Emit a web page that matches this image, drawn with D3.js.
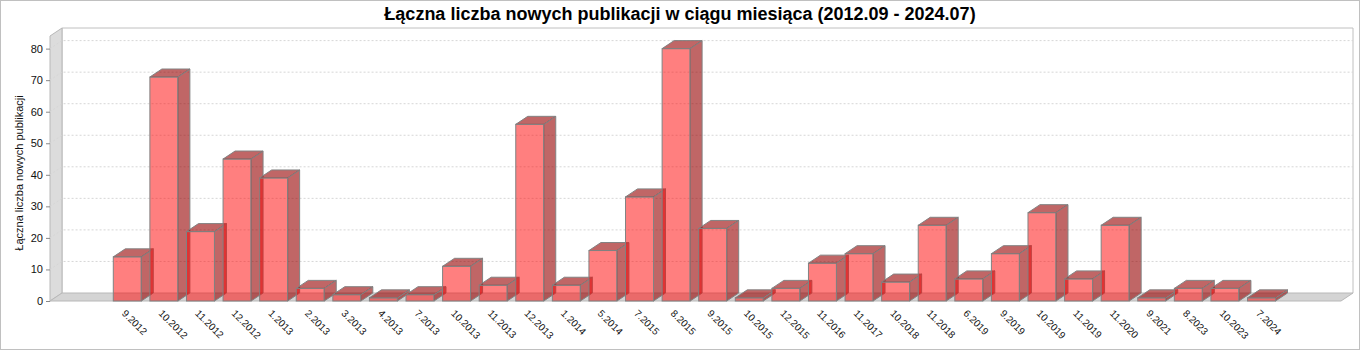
<!DOCTYPE html>
<html>
<head>
<meta charset="utf-8">
<script src="https://cdn.jsdelivr.net/npm/d3@7"></script>
<style>
  body { margin: 0; background: #fff; }
  svg { display: block; font-family: "Liberation Sans", Arial, sans-serif; }
</style>
</head>
<body>
<script>
const categories = ["9.2012", "10.2012", "11.2012", "12.2012", "1.2013", "2.2013", "3.2013", "4.2013", "7.2013",
  "10.2013", "11.2013", "12.2013", "1.2014", "5.2014", "7.2015", "8.2015", "9.2015", "10.2015", "12.2015",
  "11.2016", "11.2017", "10.2018", "11.2018", "6.2019", "9.2019", "10.2019", "11.2019", "11.2020", "9.2021",
  "8.2023", "10.2023", "7.2024"]
const counts = [14, 71, 22, 45, 39, 4, 2, 1, 2, 11, 5, 56, 5, 16, 33, 80, 23, 1, 4, 12, 15, 6, 24, 7, 15, 28, 7, 24, 1, 4, 4, 1]
const yTicks = [0, 10, 20, 30, 40, 50, 60, 70, 80]

const title = "Łączna liczba nowych publikacji w ciągu miesiąca (2012.09 - 2024.07)"
const yLabel = "Łączna liczba nowych publikacji"

const width = 1360
const height = 350
// 3d offset of the plot
const dx = 12
const dy = 8
const plotLeft = 50, plotRight = 1341, plotTop = 36, plotBottom = 301

const x = d3.scaleBand().domain(categories).range([113.3, 1275.5]).paddingInner(0.235)
const y = d3.scaleLinear().domain([0, 84]).range([plotBottom, plotTop])

const svg = d3.select("body").append("svg").attr("width", width).attr("height", height)

svg.append("rect").attr("x", 0.5).attr("y", 0.5).attr("width", width - 1).attr("height", height - 1)
  .attr("fill", "#fff").attr("stroke", "#c0c0c0")

svg.append("text").attr("x", 680).attr("y", 20).attr("text-anchor", "middle")
  .style("font-size", "18px").style("font-weight", "bold").attr("fill", "#000").text(title)

// back wall outline
svg.append("path")
  .attr("d", `M${plotLeft + dx},${y(0) - dy}V${plotTop - dy}H${plotRight + dx}V${y(0) - dy}`)
  .attr("fill", "none").attr("stroke", "#c0c0c0")

// left wall
svg.append("path")
  .attr("d", `M${plotLeft},${plotBottom}L${plotLeft},${plotTop}L${plotLeft + dx},${plotTop - dy}L${plotLeft + dx},${plotBottom - dy}Z`)
  .attr("fill", "#dcdcdc").attr("stroke", "#b8b8b8")

// floor
svg.append("path")
  .attr("d", `M${plotLeft},${plotBottom}L${plotLeft + dx},${plotBottom - dy}L${plotRight + dx},${plotBottom - dy}L${plotRight},${plotBottom}Z`)
  .attr("fill", "#d4d4d4").attr("stroke", "#b8b8b8")

// gridlines
const grid = svg.append("g").attr("stroke", "#d6d6d6").attr("stroke-dasharray", "2,2").attr("fill", "none")
grid.selectAll("path").data(yTicks.filter((d) => d > 0)).join("path")
  .attr("d", (d) => `M${plotLeft},${y(d)}L${plotLeft + dx},${y(d) - dy}H${plotRight + dx}`)

// bars
const bars = svg.append("g").attr("stroke", "#828282").attr("stroke-width", 1)
categories.forEach((c, i) => {
  const x0 = x(c), w = x.bandwidth(), yt = y(counts[i]), yb = y(0)
  const g = bars.append("g")
  g.append("rect").attr("x", x0).attr("y", yt).attr("width", w).attr("height", yb - yt)
    .attr("fill", "rgba(255,0,0,0.5)")
  g.append("path")
    .attr("d", `M${x0 + w},${yt}L${x0 + w + dx},${yt - dy}L${x0 + w + dx},${yb - dy}L${x0 + w},${yb}Z`)
    .attr("fill", "rgba(150,0,0,0.6)")
  g.append("path")
    .attr("d", `M${x0},${yt}L${x0 + dx},${yt - dy}L${x0 + w + dx},${yt - dy}L${x0 + w},${yt}Z`)
    .attr("fill", "rgba(150,0,0,0.6)")
})

// y axis
const yAxis = svg.append("g").attr("transform", `translate(${plotLeft},0)`)
  .call(d3.axisLeft(y).tickValues(yTicks).tickSize(4).tickPadding(3))
yAxis.select(".domain").remove()
yAxis.selectAll("line").attr("stroke", "#888")
yAxis.selectAll("text").style("font-size", "11px").attr("fill", "#111")
  .style("font-family", "'Liberation Sans', Arial, sans-serif")

svg.append("text").attr("transform", `translate(23,${173}) rotate(-90)`).attr("text-anchor", "middle")
  .style("font-size", "11px").attr("fill", "#111").text(yLabel)

// x axis
const xAxis = svg.append("g").attr("transform", `translate(0,${plotBottom})`)
  .call(d3.axisBottom(x).tickSize(0))
xAxis.select(".domain").remove()
xAxis.selectAll("text")
  .attr("y", null).attr("dy", null)
  .attr("transform", "translate(-6,13) rotate(45)")
  .style("text-anchor", "start").style("font-size", "10px")
  .style("font-family", "'Liberation Sans', Arial, sans-serif").attr("fill", "#111")
</script>
</body>
</html>
